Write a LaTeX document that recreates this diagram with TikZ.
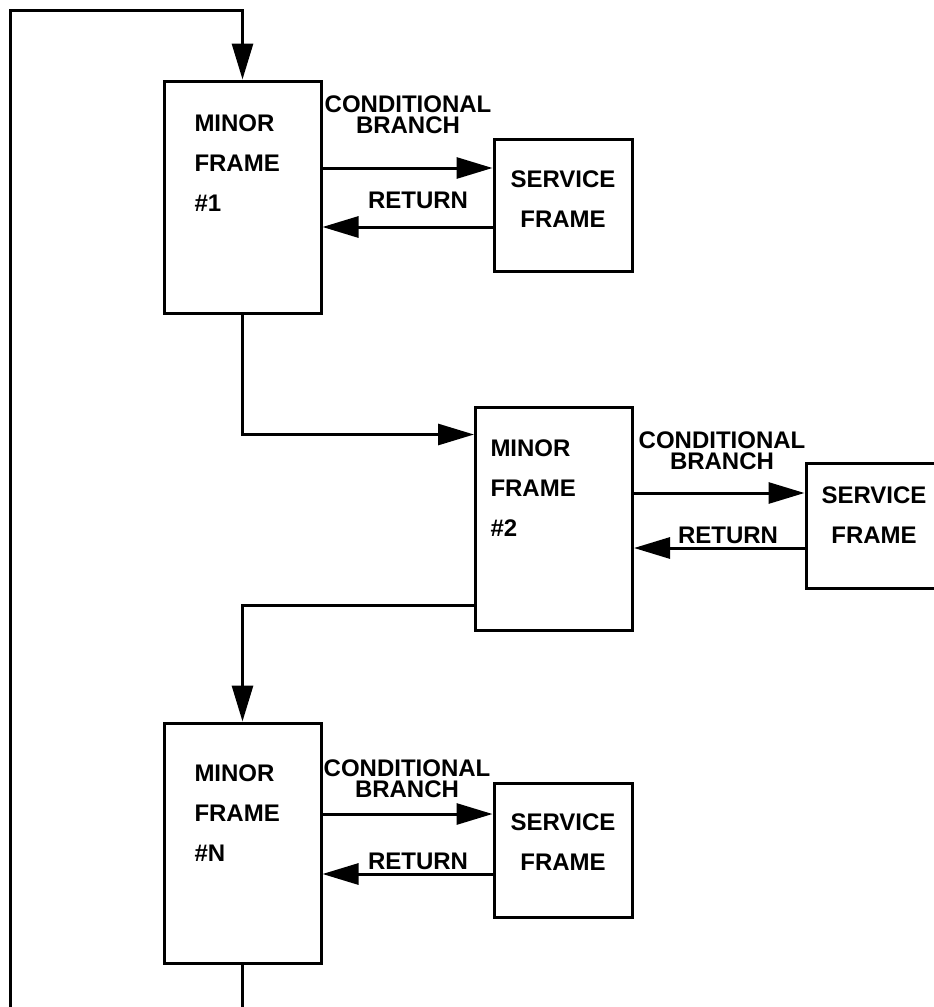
\documentclass[tikz,border=0pt]{standalone}
\usepackage{fontspec}
\setmainfont{Liberation Sans}
\usetikzlibrary{arrows.meta, calc}

\tikzset{
  frameline/.style={draw, line width=1.5pt, inner sep=0pt},
  minorframe/.style={frameline, minimum width=78.5pt},
  serviceframe/.style={frameline, minimum width=69pt},
  txt/.style={font=\bfseries\fontsize{12}{20}\selectfont, inner sep=0pt},
  branchtxt/.style={font=\bfseries\fontsize{12}{10.5}\selectfont, inner sep=0pt, align=center},
}

\begin{document}
\begin{tikzpicture}[x=0.5pt, y=-0.5pt, line width=1.5pt, arr/.style={-{Triangle[length=18pt,width=10.5pt]}}]
\useasboundingbox (0,0) rectangle (933,1007);
% minor frames
\node (m1) [minorframe, minimum height=116pt] at (242.5,197) {};
\node (m2) [minorframe, minimum height=111.5pt] at (554,518.5) {};
\node (mN) [minorframe, minimum height=120pt] at (242.5,843) {};
\node (m1t) [txt, align=left, anchor=north west] at (193,113) {MINOR\\FRAME\\\#1};
\node (m2t) [txt, align=left, anchor=north west] at (489,438) {MINOR\\FRAME\\\#2};
\node (mNt) [txt, align=left, anchor=north west] at (193,763) {MINOR\\FRAME\\\#N};
% service frames
\node (s1) [serviceframe, minimum height=66pt] at (563,205) {};
\node (s2) [serviceframe, minimum height=62.5pt] at (875,525.5) {};
\node (sN) [serviceframe, minimum height=67pt] at (563,850) {};
\node (s1t) [txt, align=center] at (563,199) {SERVICE\\FRAME};
\node (s2t) [txt, align=center] at (874,515) {SERVICE\\FRAME};
\node (sNt) [txt, align=center] at (563,842) {SERVICE\\FRAME};
% branch and return labels
\node (b1t) [branchtxt] at (408,115) {CONDITIONAL\\BRANCH};
\node (b2t) [branchtxt] at (722,450.5) {CONDITIONAL\\BRANCH};
\node (bNt) [branchtxt] at (407,779) {CONDITIONAL\\BRANCH};
\node (r1t) [txt] at (418,200.5) {RETURN};
\node (r2t) [txt] at (728,535) {RETURN};
\node (rNt) [txt] at (418,861) {RETURN};

% branch / return arrows
\coordinate (b1) at ($(s1.west)+(0,-37)$);
\coordinate (r1) at ($(s1.west)+(0,22)$);
\coordinate (b2) at ($(s2.west)+(0,-32.5)$);
\coordinate (r2) at ($(s2.west)+(0,22.5)$);
\coordinate (bN) at ($(sN.west)+(0,-36)$);
\coordinate (rN) at ($(sN.west)+(0,24)$);
\draw[arr] (b1 -| m1.east) -- (b1);
\draw[arr] (r1) -- (r1 -| m1.east);
\draw[arr] (b2 -| m2.east) -- (b2);
\draw[arr] (r2) -- (r2 -| m2.east);
\draw[arr] (bN -| mN.east) -- (bN);
\draw[arr] (rN) -- (rN -| mN.east);

% frame to frame
\draw[arr] (m1.south) |- ($(m2.north west)+(0,29)$);
\draw[arr] ($(m2.south west)+(0,-26)$) -| (mN.north);

% loop back
\coordinate (lb) at (10,1007);
\coordinate (lt) at (10,10);
\draw (mN.south) -- (mN.south |- lb);
\draw[arr] (lb) -- (lt) -| (m1.north);
\end{tikzpicture}
\end{document}
